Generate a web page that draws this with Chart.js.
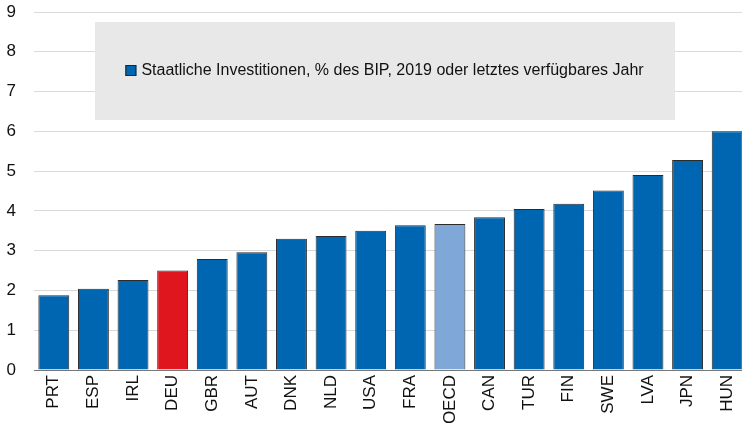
<!DOCTYPE html>
<html>
<head>
<meta charset="utf-8">
<script src="https://cdn.jsdelivr.net/npm/chart.js@4/dist/chart.umd.min.js"></script>
<style>
  html, body { margin: 0; padding: 0; background: #fff; overflow: hidden; }
  /* the original picture is cropped on the right, so the canvas runs a little past the window */
  #wrap { width: 747px; height: 423px; }
</style>
</head>
<body>
<div id="wrap"><canvas id="chartCanvas"></canvas></div>
<script>
const countries = ['PRT', 'ESP', 'IRL', 'DEU', 'GBR', 'AUT', 'DNK', 'NLD', 'USA', 'FRA', 'OECD', 'CAN', 'TUR', 'FIN', 'SWE', 'LVA', 'JPN', 'HUN'];
const investment = [1.88, 2.04, 2.26, 2.5, 2.79, 2.96, 3.3, 3.37, 3.5, 3.64, 3.67, 3.84, 4.05, 4.18, 4.51, 4.9, 5.28, 6.0];
const seriesLabel = 'Staatliche Investitionen, % des BIP, 2019 oder letztes verfügbares Jahr';

const barColors = countries.map(c => c === 'DEU' ? '#e0161f' : (c === 'OECD' ? '#7fa7d8' : '#0066b1'));
const fontFamily = '"Liberation Sans", Arial, sans-serif';

// grey legend box inside the plot, drawn over the grid but under the bars
const legendBox = {
  id: 'legendBox',
  beforeDatasetsDraw(chart) {
    const ctx = chart.ctx;
    ctx.save();
    ctx.fillStyle = '#e8e8e8';
    ctx.fillRect(95, 22, 580, 98);
    ctx.font = '16px ' + fontFamily;
    ctx.textBaseline = 'middle';
    const tw = ctx.measureText(seriesLabel).width;
    const x0 = 95 + (580 - (tw + 17)) / 2;
    ctx.fillStyle = '#0066b1';
    ctx.fillRect(x0, 65, 11, 11);
    ctx.strokeStyle = '#222';
    ctx.lineWidth = 1;
    ctx.strokeRect(x0 + 0.5, 65.5, 10, 10);
    ctx.fillStyle = '#111';
    ctx.fillText(seriesLabel, x0 + 16, 71);
    ctx.restore();
  }
};

new Chart(document.getElementById('chartCanvas').getContext('2d'), {
  type: 'bar',
  data: {
    labels: countries,
    datasets: [{
      label: seriesLabel,
      data: investment,
      backgroundColor: barColors,
      borderColor: '#2b2b2b',
      borderWidth: 1,
      barPercentage: 0.78,
      categoryPercentage: 1.0
    }]
  },
  options: {
    responsive: true,
    maintainAspectRatio: false,
    animation: false,
    layout: { padding: { top: 12, right: 0, bottom: 0, left: 0 } },
    plugins: {
      legend: { display: false },
      tooltip: { enabled: false }
    },
    scales: {
      x: {
        grid: { display: false, drawTicks: false },
        border: { color: '#777', width: 1 },
        ticks: {
          color: '#111',
          font: { family: fontFamily, size: 17 },
          minRotation: 90,
          maxRotation: 90,
          padding: 5
        },
        afterFit(scale) {
          scale.height = 53;
          scale.paddingLeft = 0;
          scale.paddingRight = 0;
        }
      },
      y: {
        min: 0,
        max: 9,
        grid: { color: '#d9d9d9', drawTicks: false },
        border: { display: false },
        ticks: {
          stepSize: 1,
          color: '#111',
          font: { family: fontFamily, size: 17 },
          padding: 18
        },
        afterFit(scale) {
          scale.width = 34;
          scale.paddingTop = 0;
          scale.paddingBottom = 0;
        }
      }
    }
  },
  plugins: [legendBox]
});
</script>
</body>
</html>
